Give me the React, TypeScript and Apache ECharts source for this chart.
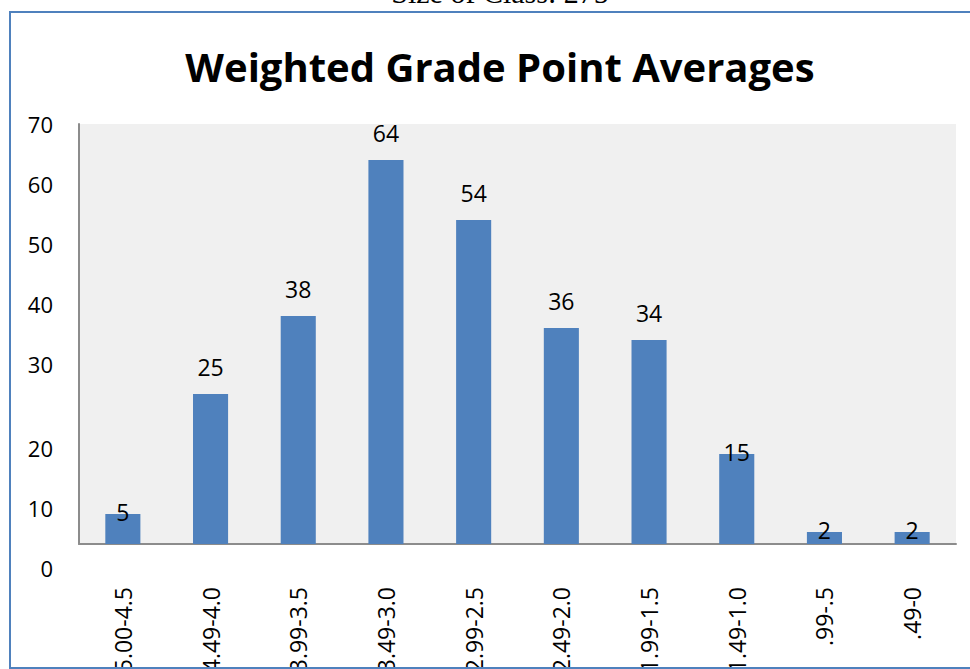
import React, { useEffect, useRef } from "react";
import * as echarts from "echarts";

const categories = ["5.00-4.5", "4.49-4.0", "3.99-3.5", "3.49-3.0", "2.99-2.5", "2.49-2.0", "1.99-1.5", "1.49-1.0", ".99-.5", ".49-0"];
const counts = [5, 25, 38, 64, 54, 36, 34, 15, 2, 2];
const yTicks = { min: 0, max: 70, interval: 10 };
const titleText = "Weighted Grade Point Averages";
const headerText = "Size of Class: 275";

const FONT = '"Open Sans", "Noto Sans", sans-serif';

export default function App() {
  const ref = useRef<HTMLDivElement>(null);
  useEffect(() => {
    if (!ref.current) return;
    const chart = echarts.init(ref.current, null, { renderer: "svg" });
    chart.setOption({
      animation: false,
      backgroundColor: "#ffffff",
      graphic: [
        {
          type: "rect",
          shape: { x: 10, y: 12, width: 1000, height: 656 },
          style: { fill: "none", stroke: "#4f81bd", lineWidth: 2 },
          z: 10,
        },
        {
          type: "text",
          x: 500,
          y: 7,
          style: {
            text: headerText,
            font: '30px "Liberation Serif", serif',
            fill: "#000",
            textAlign: "center",
            textVerticalAlign: "bottom",
          },
        },
        {
          type: "text",
          x: 500,
          y: 66,
          style: {
            text: titleText,
            font: 'bold 40px "Open Sans", "Noto Sans", sans-serif',
            fill: "#000",
            textAlign: "center",
            textVerticalAlign: "middle",
          },
        },
      ],
      grid: {
        left: 79,
        right: 14,
        top: 124,
        bottom: 125,
        show: true,
        backgroundColor: "#f0f0f0",
        borderWidth: 0,
        containLabel: false,
        outerBoundsMode: "none",
      },
      xAxis: {
        type: "category",
        data: categories,
        axisLine: { show: true, lineStyle: { color: "#8c8c8c", width: 2 } },
        axisTick: { show: false },
        axisLabel: {
          interval: 0,
          rotate: 90,
          margin: 43,
          fontSize: 23,
          fontFamily: FONT,
          color: "#000",
        },
      },
      yAxis: {
        type: "value",
        min: yTicks.min,
        max: yTicks.max,
        interval: yTicks.interval,
        axisLine: { show: true, lineStyle: { color: "#8c8c8c", width: 2 } },
        axisTick: { show: false },
        splitLine: { show: false },
        axisLabel: {
          margin: 26,
          fontSize: 22,
          fontFamily: FONT,
          color: "#000",
          formatter: (v: number) => (v <= 20 ? `{low|${v}}` : `${v}`),
          rich: {
            low: { fontSize: 22, fontFamily: FONT, color: "#000", padding: [47, 0, 0, 0] },
          },
        },
      },
      series: [
        {
          type: "bar",
          data: counts.map((v) => ({
            value: v,
            label: { distance: v < 20 ? -10 : 15 },
          })),
          barWidth: "40%",
          itemStyle: { color: "#4f81bd" },
          label: {
            show: true,
            position: "top",
            fontSize: 23,
            lineHeight: 24,
            fontFamily: FONT,
            color: "#000",
          },
        },
      ],
    });
    return () => chart.dispose();
  }, []);
  return <div ref={ref} style={{ position: "fixed", left: 0, top: 0, width: 970, height: 669 }} />;
}
